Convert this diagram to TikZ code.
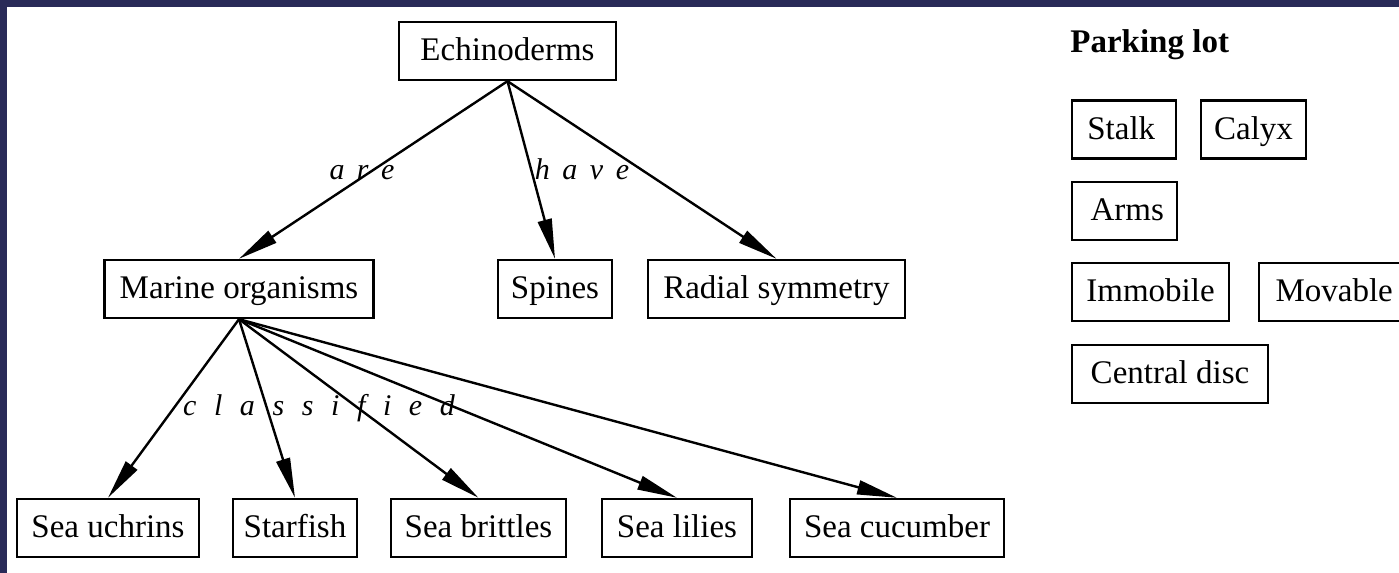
\documentclass[tikz,border=0pt]{standalone}
\usepackage{fontspec}
\setmainfont{Liberation Serif}
\usepackage{tikz}
\usetikzlibrary{arrows.meta}
\definecolor{cadre}{RGB}{41,42,88}
\newcommand{\txtfont}{\fontsize{16.5}{19.8}\selectfont}
\newcommand{\lblfont}{\fontsize{15}{18}\selectfont\itshape}
\tikzset{
  boite/.style={rectangle, draw=black, line width=1.2pt, fill=white, inner sep=0pt,
                minimum width=#1, minimum height=29pt, text height=12.5pt, text depth=3pt,
                font=\txtfont},
  lbl/.style={inner sep=0pt, anchor=base, font={\lblfont\spaceskip=#1\relax}},
  arr/.style={-{Triangle[length=20pt,width=7pt]}, line width=1.2pt},
}

\begin{document}
\begin{tikzpicture}[x=0.5pt, y=-0.5pt]
  \fill[white](0,0) rectangle (1399,573);
  \fill[cadre](0,0) rectangle (1399,7); \fill[cadre](0,0) rectangle (7,573);
  \useasboundingbox (0,0) rectangle (1399,573);
  % map
  \node[boite=108.5pt] (ech) at (507.5,51) {Echinoderms};
  \node[boite=134.5pt] (mar) at (239,289) {Marine organisms};
  \node[boite=57pt] (spi) at (555,289) {Spines};
  \node[boite=128.5pt] (rad) at (776.5,289) {Radial symmetry};
  \node[boite=91pt] (uch) at (108,528) {Sea uchrins};
  \node[boite=62pt] (sta) at (295,528) {Starfish};
  \node[boite=87.5pt] (bri) at (478.5,528) {Sea brittles};
  \node[boite=75pt] (lil) at (677,528) {Sea lilies};
  \node[boite=107pt] (cuc) at (897,528) {Sea cucumber};
  \draw[arr](ech.south)--(mar.north); \draw[arr](ech.south)--(spi.north); \draw[arr](ech.south)--(rad.north);
  \draw[arr](mar.south)--(uch.north); \draw[arr](mar.south)--(sta.north); \draw[arr](mar.south)--(bri.north);
  \draw[arr](mar.south)--(lil.north); \draw[arr](mar.south)--(cuc.north);
  \node[lbl=6.2pt] (are) at (362,179) {a r e};
  \node[lbl=6.3pt] (have) at (582,179) {h a v e};
  \node[lbl=8.8pt] (cla) at (319,415) {c l a s s i f i e d};
  % parking lot
  \node[font=\txtfont\bfseries, anchor=west, inner sep=0pt] (park) at (1070,45) {Parking lot};
  \node[boite=52pt] (stk) at (1124,129.5) {Stalk\,};
  \node[boite=52.5pt] (cal) at (1253.5,129.5) {Calyx};
  \node[boite=52.5pt] (arm) at (1124.5,211) {\,Arms};
  \node[boite=78.5pt] (imm) at (1150.5,292) {Immobile};
  \node[boite=75pt, anchor=west] (mov) at (1258,292) {Movable};
  \node[boite=98pt] (cen) at (1170,374) {Central disc};
\end{tikzpicture}
\end{document}
